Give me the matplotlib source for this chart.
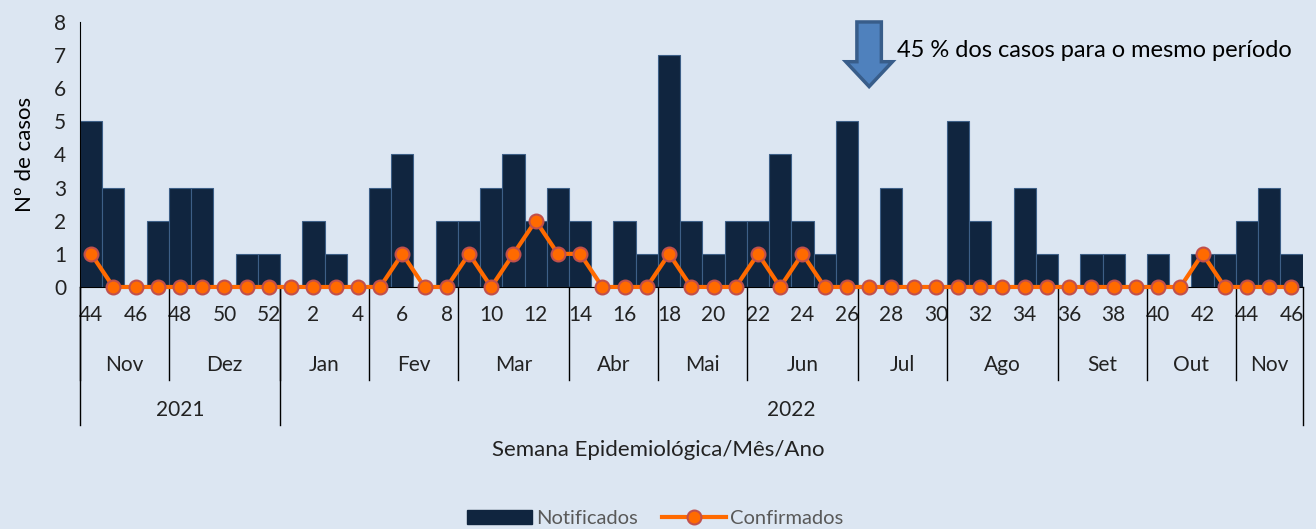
import numpy as np
import matplotlib.pyplot as plt
from matplotlib.patches import Polygon
from matplotlib.lines import Line2D
from matplotlib.patches import Patch

plt.rcParams['font.family'] = ['Lato', 'DejaVu Sans']

# epidemiological weeks 44/2021 .. 46/2022
weeks = list(range(44, 53)) + list(range(1, 47))
notificados = [5, 3, 0, 2, 3, 3, 0, 1, 1,
               0, 2, 1, 0, 3, 4, 0, 2, 2, 3, 4, 2, 3, 2, 0, 2, 1, 7, 2, 1, 2,
               2, 4, 2, 1, 5, 0, 3, 0, 0, 5, 2, 0, 3, 1, 0, 1, 1, 0, 1, 0, 1,
               1, 2, 3, 1]
confirmados = [1, 0, 0, 0, 0, 0, 0, 0, 0,
               0, 0, 0, 0, 0, 1, 0, 0, 1, 0, 1, 2, 1, 1, 0, 0, 0, 1, 0, 0, 0,
               1, 0, 1, 0, 0, 0, 0, 0, 0, 0, 0, 0, 0, 0, 0, 0, 0, 0, 0, 0, 1,
               0, 0, 0, 0]
months = ["Nov", "Dez", "Jan", "Fev", "Mar", "Abr", "Mai", "Jun", "Jul",
          "Ago", "Set", "Out", "Nov"]
month_len = [4, 5, 4, 4, 5, 4, 4, 5, 4, 5, 4, 4, 3]
years = ["2021", "2022"]
year_len = [9, 46]

bg = '#dce6f2'
fig = plt.figure(figsize=(13.16, 5.29), dpi=100, facecolor=bg)
ax = fig.add_axes([0.0608, 0.4575, 0.929, 0.501], facecolor=bg)

x = np.arange(len(weeks))
ax.bar(x, notificados, width=1.0, color='#10253f', edgecolor='#3d5f87',
       linewidth=0.8, zorder=2)
ax.plot(x, confirmados, color='#ff6a00', lw=3, marker='o', ms=10,
        mfc='#ff6a00', mec='#c0504d', mew=1.5, zorder=3, clip_on=False)

ax.set_xlim(-0.5, len(weeks) - 0.5)
ax.set_ylim(0, 8)
ax.set_yticks(range(0, 9))
ax.tick_params(axis='y', length=0, labelsize=15, pad=10, labelcolor='#222222')
ax.set_xticks(x[::2])
ax.set_xticklabels([str(w) for w in weeks[::2]])
ax.tick_params(axis='x', length=0, labelsize=15, pad=13, labelcolor='#222222')
for s in ['top', 'right']:
    ax.spines[s].set_visible(False)
ax.spines['left'].set_color('black')
ax.spines['bottom'].set_color('black')
ax.set_ylabel('Nº de casos', fontsize=16, labelpad=14)

trans = ax.get_xaxis_transform()
# month labels and separators
start = 0
for m, n in zip(months, month_len):
    ax.text(start - 0.5 + n / 2, -0.294, m, transform=trans, ha='center',
            va='center', fontsize=15, color='#222222')
    ax.plot([start - 0.5, start - 0.5], [0, -0.351], transform=trans,
            color='black', lw=1, clip_on=False)
    start += n
# year labels and separators
start = 0
for yname, n in zip(years, year_len):
    ax.text(start - 0.5 + n / 2, -0.464, yname, transform=trans, ha='center',
            va='center', fontsize=15, color='#222222')
    ax.plot([start - 0.5, start - 0.5], [0, -0.521], transform=trans,
            color='black', lw=1, clip_on=False)
    start += n
ax.plot([start - 0.5, start - 0.5], [0, -0.521], transform=trans,
        color='black', lw=1, clip_on=False)

fig.text(0.5, 0.149, 'Semana Epidemiológica/Mês/Ano', ha='center',
         va='center', fontsize=16, color='#222222')

# down arrow annotation
xa = weeks.index(27, 9)
arrow = Polygon([[xa - 0.55, 8.0], [xa + 0.55, 8.0], [xa + 0.55, 6.8],
                 [xa + 1.05, 6.8], [xa, 6.05], [xa - 1.05, 6.8],
                 [xa - 0.55, 6.8]], closed=True, facecolor='#4f81bd',
                edgecolor='#385d8a', lw=2.5, clip_on=False, zorder=4)
ax.add_patch(arrow)
ax.text(xa + 1.25, 7.15, '45 % dos casos para o mesmo período', fontsize=17,
        ha='left', va='center', color='black')

handles = [Patch(facecolor='#10253f', edgecolor='#10253f'),
           Line2D([], [], color='#ff6a00', lw=3, marker='o', ms=10,
                  mfc='#ff6a00', mec='#c0504d', mew=1.5)]
leg = fig.legend(handles, ['Notificados', 'Confirmados'], loc='lower center',
                 bbox_to_anchor=(0.498, -0.03), ncol=2, frameon=False,
                 fontsize=14.5, handlelength=3.2, handletextpad=0.2,
                 columnspacing=1.2)
for t in leg.get_texts():
    t.set_color('#595959')

fig.savefig('out.png', dpi=100, facecolor=bg)
